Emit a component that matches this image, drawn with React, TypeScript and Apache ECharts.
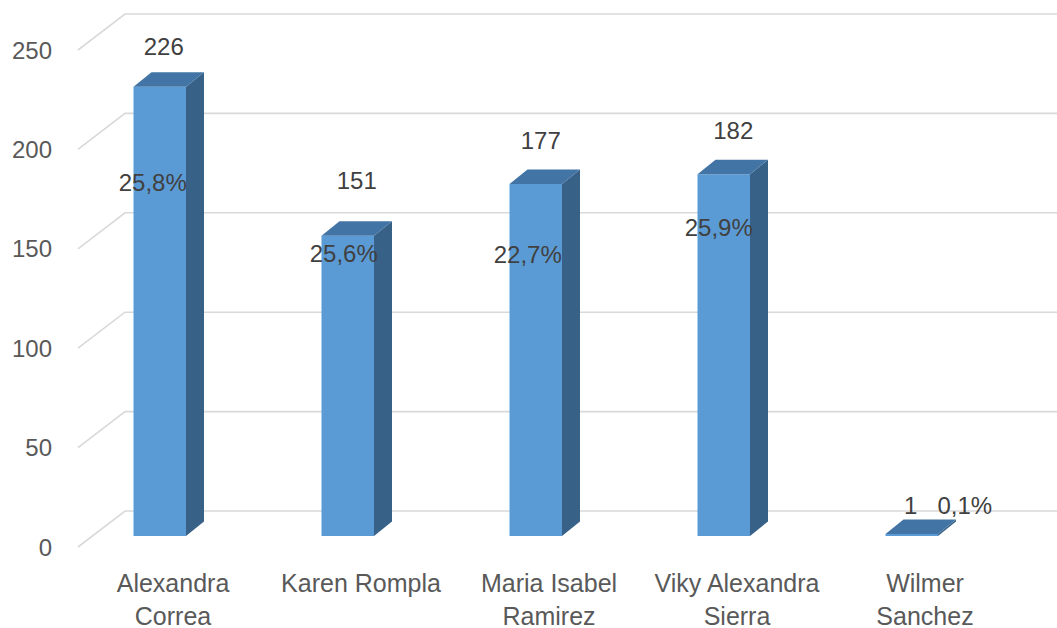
import React, { useEffect, useRef } from "react";
import * as echarts from "echarts";

const categories = [
  "Alexandra\nCorrea",
  "Karen Rompla",
  "Maria Isabel\nRamirez",
  "Viky Alexandra\nSierra",
  "Wilmer\nSanchez",
];
const values = [226, 151, 177, 182, 1];
const percentLabels = ["25,8%", "25,6%", "22,7%", "25,9%", "0,1%"];
const yTicks = [0, 50, 100, 150, 200, 250];

// layout: label offsets (px) from the top-centre of each bar's front face
const valueLabelOffsets = [[4, -40], [9, -55], [5, -44], [9.5, -43.5], [-1, -29]];
const percentLabelOffsets = [[-7, 96], [-4, 18], [-8, 70], [-5, 53.5], [53, -29]];

const FRONT = "#5B9BD5";
const SIDE = "#386188";
const TOP = "#4274A5";
const GRID = "#D9D9D9";
const AXIS_TEXT = "#595959";
const LABEL_TEXT = "#404040";
const FONT = "'Liberation Sans', Arial, sans-serif";

export default function App() {
  const ref = useRef<HTMLDivElement>(null);
  useEffect(() => {
    if (!ref.current) return;
    const chart = echarts.init(ref.current, null, { renderer: "svg" });
    const DX = 18;
    const DY = -14.5;
    chart.setOption({
      animation: false,
      backgroundColor: "#ffffff",
      grid: {
        left: 79,
        right: 38,
        top: 39,
        bottom: 92,
        containLabel: false,
        outerBoundsMode: "none",
      },
      xAxis: {
        type: "category",
        data: categories,
        axisLine: { show: false },
        axisTick: { show: false },
        axisLabel: {
          color: AXIS_TEXT,
          fontSize: 25,
          fontFamily: FONT,
          lineHeight: 33,
          margin: 30,
          interval: 0,
        },
      },
      yAxis: {
        type: "value",
        min: 0,
        max: 250,
        interval: 50,
        axisLine: { show: false },
        axisTick: { show: false },
        splitLine: { show: false },
        axisLabel: {
          color: AXIS_TEXT,
          fontSize: 24,
          fontFamily: FONT,
          margin: 27,
          lineHeight: 22,
          verticalAlign: "top",
        },
      },
      series: [
        {
          type: "custom",
          z: 1,
          silent: true,
          data: yTicks.map((v) => [0, v]),
          encode: { x: 0, y: 1 },
          renderItem: (params: any, api: any) => {
            const p = api.coord([0, api.value(1)]);
            const y = p[1];
            return {
              type: "polyline",
              shape: {
                points: [
                  [78, y + 11],
                  [125, y - 25],
                  [1057, y - 25],
                ],
              },
              style: { stroke: GRID, lineWidth: 1.6, fill: "none" },
            };
          },
        },
        {
          type: "custom",
          z: 2,
          data: values.map((v, i) => [i, v]),
          encode: { x: 0, y: 1 },
          renderItem: (params: any, api: any) => {
            const i = params.dataIndex;
            const base = api.coord([api.value(0), 0]);
            const top = api.coord([api.value(0), api.value(1)]);
            const cx = base[0];
            const x0 = cx - 39.5;
            const x1 = cx + 13;
            const y0 = base[1];
            const y1 = top[1];
            const fc = (x0 + x1) / 2;
            const vo = valueLabelOffsets[i];
            const po = percentLabelOffsets[i];
            return {
              type: "group",
              children: [
                {
                  type: "polygon",
                  shape: {
                    points: [
                      [x1, y1],
                      [x1 + DX, y1 + DY],
                      [x1 + DX, y0 + DY],
                      [x1, y0],
                    ],
                  },
                  style: { fill: SIDE },
                },
                {
                  type: "rect",
                  shape: { x: x0, y: y1, width: x1 - x0, height: Math.max(y0 - y1, 0) },
                  style: { fill: FRONT },
                },
                {
                  type: "polygon",
                  shape: {
                    points: [
                      [x0, y1],
                      [x0 + DX, y1 + DY],
                      [x1 + DX, y1 + DY],
                      [x1, y1],
                    ],
                  },
                  style: { fill: TOP },
                },
                {
                  type: "text",
                  x: fc + vo[0],
                  y: y1 + vo[1],
                  style: {
                    text: String(values[i]),
                    fill: LABEL_TEXT,
                    fontSize: 24,
                    fontFamily: FONT,
                    align: "center",
                    verticalAlign: "middle",
                  },
                },
                {
                  type: "text",
                  x: fc + po[0],
                  y: y1 + po[1],
                  style: {
                    text: percentLabels[i],
                    fill: LABEL_TEXT,
                    fontSize: 24,
                    fontFamily: FONT,
                    align: "center",
                    verticalAlign: "middle",
                  },
                },
              ],
            };
          },
        },
      ],
    });
    return () => chart.dispose();
  }, []);
  return (
    <div
      ref={ref}
      style={{ position: "fixed", left: 0, top: 0, width: 1057, height: 628 }}
    />
  );
}
